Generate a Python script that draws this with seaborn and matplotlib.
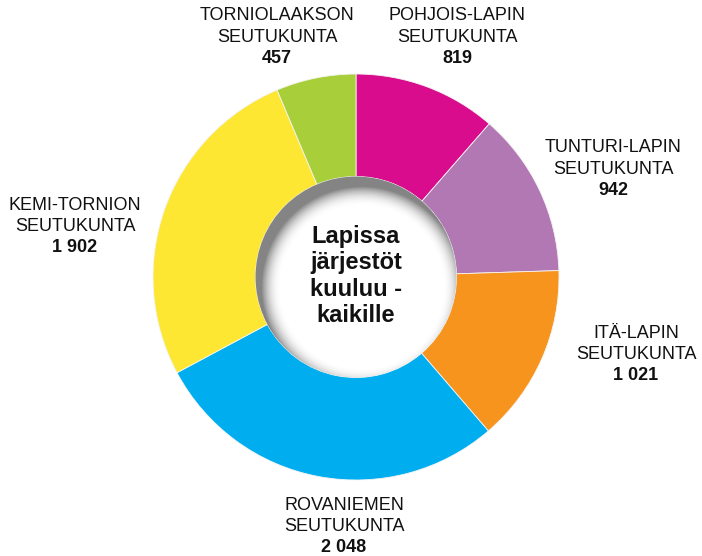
import numpy as np
import matplotlib
matplotlib.use("Agg")
import matplotlib.pyplot as plt
import seaborn as sns
from matplotlib.patches import Circle

sns.set_theme(style="white")
plt.rcParams['font.family'] = ['Liberation Sans', 'DejaVu Sans']

regions = ["POHJOIS-LAPIN", "TUNTURI-LAPIN", "ITÄ-LAPIN", "ROVANIEMEN", "KEMI-TORNION", "TORNIOLAAKSON"]
values = [819, 942, 1021, 2048, 1902, 457]
value_labels = ["819", "942", "1 021", "2 048", "1 902", "457"]
colors = ["#D80C8C", "#B278B4", "#F7941E", "#00AEEF", "#FEE733", "#A8CF3A"]
center_text = "Lapissa\njärjestöt\nkuuluu -\nkaikille"

W, H = 702, 556
fig = plt.figure(figsize=(W / 100, H / 100), dpi=100)
ax = fig.add_axes([0, 0, 1, 1])

cx, cy = 356, H - 277
R_out, R_in = 203, 100.5

ax.pie(values, colors=colors, startangle=90, counterclock=False,
       radius=R_out, center=(cx, cy), frame=True,
       wedgeprops=dict(width=R_out - R_in, linewidth=0.6, edgecolor="#f4f4f4"))
ax.set_aspect("equal")

# hole with soft inner shadow (light from lower right)
hole = Circle((cx, cy), R_in, facecolor="white", edgecolor="none", zorder=3)
ax.add_patch(hole)
yy, xx = np.mgrid[0:H, 0:W]
ypix = H - yy - 0.5
xpix = xx + 0.5
dshift = np.hypot(xpix - (cx + 6), ypix - (cy - 10))
d = (R_in - dshift)
alpha = np.clip(1 - d / 20.0, 0, 1) ** 2.2 * 0.8
rgba = np.zeros((H, W, 4))
rgba[..., :3] = 0.40
rgba[..., 3] = alpha
im = ax.imshow(rgba, extent=(0, W, 0, H), origin="upper", zorder=4, interpolation="bilinear")
clipc = Circle((cx, cy), R_in, transform=ax.transData)
im.set_clip_path(clipc)

ax.set_xlim(0, W)
ax.set_ylim(0, H)
ax.set_aspect("equal")
ax.axis("off")

ax.text(cx, cy + 1, center_text, ha="center", va="center", fontsize=17,
        fontweight="bold", color="#111111", linespacing=1.17, zorder=6)

label_pos = [(457, 16), (613, 148), (636, 333), (344, 505), (75, 205), (277, 16)]
for name, vl, (lx, ly) in zip(regions, value_labels, label_pos):
    ax.text(lx, H - ly, name, ha="center", va="center", fontsize=13, color="#111111")
    ax.text(lx, H - ly - 21.5, "SEUTUKUNTA", ha="center", va="center", fontsize=13, color="#111111")
    ax.text(lx, H - ly - 42.5, vl, ha="center", va="center", fontsize=13,
            fontweight="bold", color="#111111")

fig.savefig("out.png", dpi=100)
